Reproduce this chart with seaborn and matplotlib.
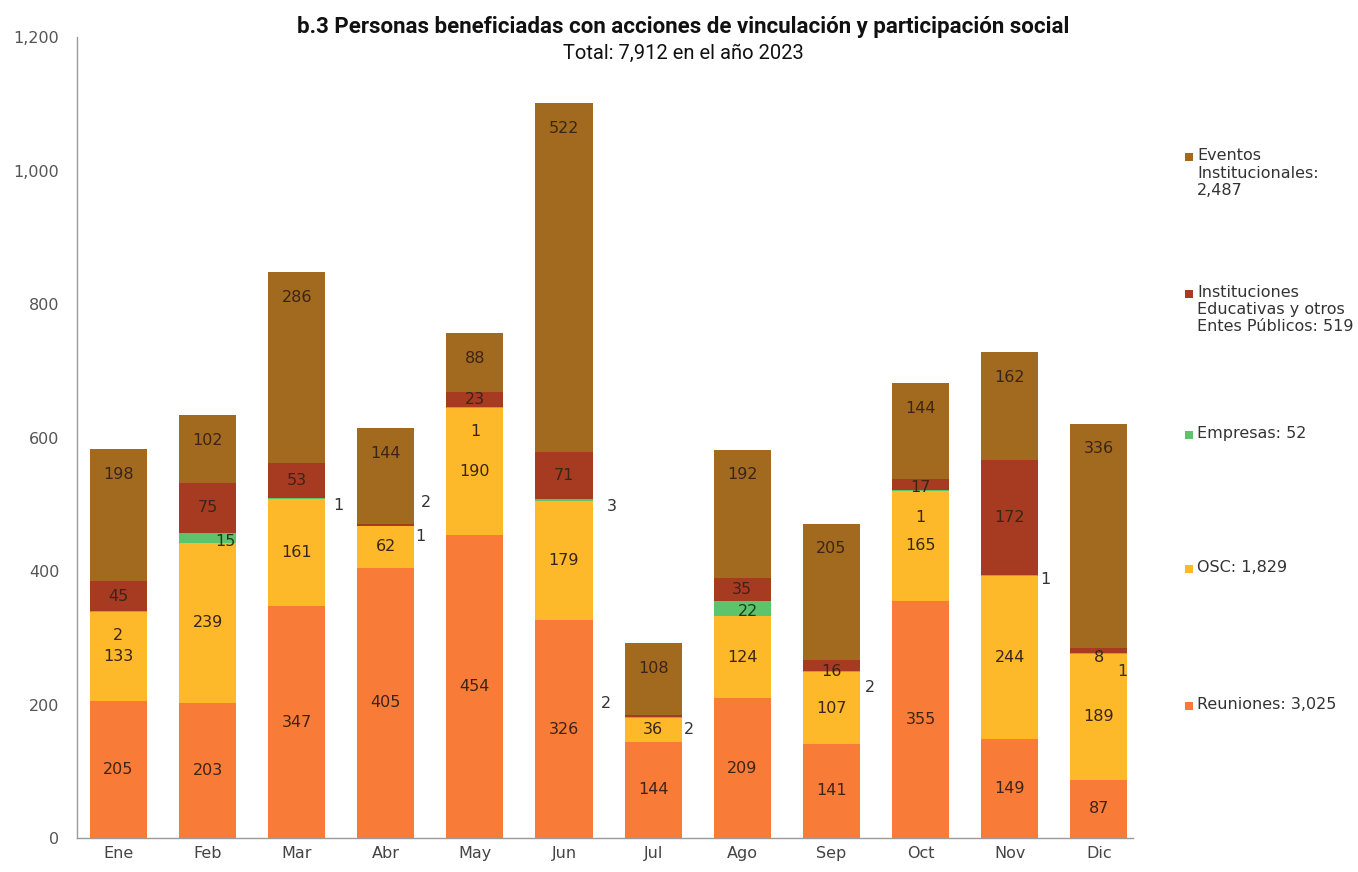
"""
Personas beneficiadas con acciones de vinculación y participación social (2023).
Stacked monthly bars drawn with seaborn as overlapping cumulative layers.
"""

import pandas as pd
import matplotlib.pyplot as plt
import seaborn as sns
from matplotlib.patches import Rectangle
from matplotlib.ticker import FuncFormatter

# Data
meses = ["Ene", "Feb", "Mar", "Abr", "May", "Jun", "Jul", "Ago", "Sep", "Oct", "Nov", "Dic"]
reuniones = [205, 203, 347, 405, 454, 326, 144, 209, 141, 355, 149, 87]
osc = [133, 239, 161, 62, 190, 179, 36, 124, 107, 165, 244, 189]
empresas = [2, 15, 1, 1, 1, 3, 2, 22, 2, 1, 1, 1]
instituciones = [45, 75, 53, 2, 23, 71, 2, 35, 16, 17, 172, 8]
eventos = [198, 102, 286, 144, 88, 522, 108, 192, 205, 144, 162, 336]

series_names = ["Reuniones", "OSC", "Empresas", "Instituciones", "Eventos"]
legend_labels = [
    "Reuniones: 3,025",
    "OSC: 1,829",
    "Empresas: 52",
    "Instituciones\nEducativas y otros\nEntes Públicos: 519",
    "Eventos\nInstitucionales:\n2,487",
]
colors = ["#F97B38", "#FDB92A", "#5EC46C", "#A63B22", "#A26A1E"]

title = "b.3 Personas beneficiadas con acciones de vinculación y participación social"
subtitle = "Total: 7,912 en el año 2023"

# Manual label nudges for the tiny segments: (dx in bars, dy in data units, ha, outside)
nudges = {
    ("Empresas", "Ene"): (0, -35, "center", False),
    ("Empresas", "Feb"): (0.31, -6, "right", False),
    ("Empresas", "Mar"): (0.47, -10, "center", True),
    ("Empresas", "Abr"): (0.39, -16, "center", True),
    ("Instituciones", "Abr"): (0.45, 33, "center", True),
    ("Empresas", "May"): (0, -36, "center", False),
    ("Empresas", "Jun"): (0.54, -10, "center", True),
    ("Empresas", "Jul"): (0.40, -19, "center", True),
    ("Instituciones", "Jul"): (-0.53, 19, "center", True),
    ("Empresas", "Ago"): (0.07, -5, "center", False),
    ("Empresas", "Sep"): (0.43, -23, "center", True),
    ("Instituciones", "Sep"): (0, -8, "center", False),
    ("Empresas", "Oct"): (0, -40, "center", False),
    ("Instituciones", "Oct"): (0, -5, "center", False),
    ("Empresas", "Nov"): (0.40, -6, "center", True),
    ("Empresas", "Dic"): (0.27, -27, "center", True),
    ("Instituciones", "Dic"): (0, -10, "center", False),
}

df = pd.DataFrame({
    "mes": meses,
    "Reuniones": reuniones,
    "OSC": osc,
    "Empresas": empresas,
    "Instituciones": instituciones,
    "Eventos": eventos,
})
stack = df[series_names].cumsum(axis=1)

sns.set_style("white")
plt.rcParams["font.family"] = ["DejaVu Sans"]

fig = plt.figure(figsize=(13.58, 8.72), dpi=100)
ax = fig.add_axes([0.057, 0.039, 0.777, 0.9185])

# draw from the top layer down so each smaller cumulative bar covers the one behind
for name, color in reversed(list(zip(series_names, colors))):
    sns.barplot(x=df["mes"], y=stack[name], order=meses, color=color, saturation=1,
                width=0.64, errorbar=None, linewidth=0, ax=ax)

text_dark = "#3B2418"
for i, mes in enumerate(meses):
    for name in series_names:
        val = df.loc[i, name]
        top = stack.loc[i, name]
        # top layer labels sit near the bar end, the rest in the middle
        ypos = top - 38 if name == "Eventos" else top - val / 2
        dx, dy, ha, outside = nudges.get((name, mes), (0, 0, "center", False))
        col = text_dark
        if outside:
            col = "#333333"
        elif name == "Empresas" and val >= 10:
            col = "#1F3A20"
        ax.text(i + dx, ypos + dy, f"{val}", ha=ha, va="center",
                fontsize=11.5, color=col)

ax.set_ylim(0, 1200)
ax.set_xlim(-0.46, 11.38)
ax.set_yticks(range(0, 1201, 200))
ax.yaxis.set_major_formatter(FuncFormatter(lambda v, p: f"{int(v):,}"))
ax.set_xlabel("")
ax.set_ylabel("")
ax.tick_params(axis="y", length=0, pad=13, labelsize=11.5, labelcolor="#555555")
ax.tick_params(axis="x", length=0, pad=6, labelsize=11.5, labelcolor="#444444")
sns.despine(ax=ax, top=True, right=True)
for side in ["left", "bottom"]:
    ax.spines[side].set_color("#9A9A9A")
    ax.spines[side].set_linewidth(1)

fig.text(0.503, 0.969, title, ha="center", va="center", fontsize=16,
         fontweight="bold", family=["Roboto", "DejaVu Sans"], color="#111111")
fig.text(0.503, 0.939, subtitle, ha="center", va="center", fontsize=14.5,
         family=["Roboto", "DejaVu Sans"], color="#111111")

# legend, top entry first
legend_y = [157, 293, 434, 568, 705]
for y_px, name in zip(legend_y, reversed(range(len(series_names)))):
    yf = 1 - y_px / 872
    fig.patches.append(Rectangle((1185 / 1358, yf - 4.5 / 872), 8 / 1358, 8 / 872,
                                 transform=fig.transFigure, color=colors[name], lw=0))
    fig.text(1197 / 1358, yf + 8.5 / 872, legend_labels[name], ha="left", va="top",
             fontsize=11.5, color="#333333", linespacing=1.2)

fig.savefig("out.png", dpi=100)
